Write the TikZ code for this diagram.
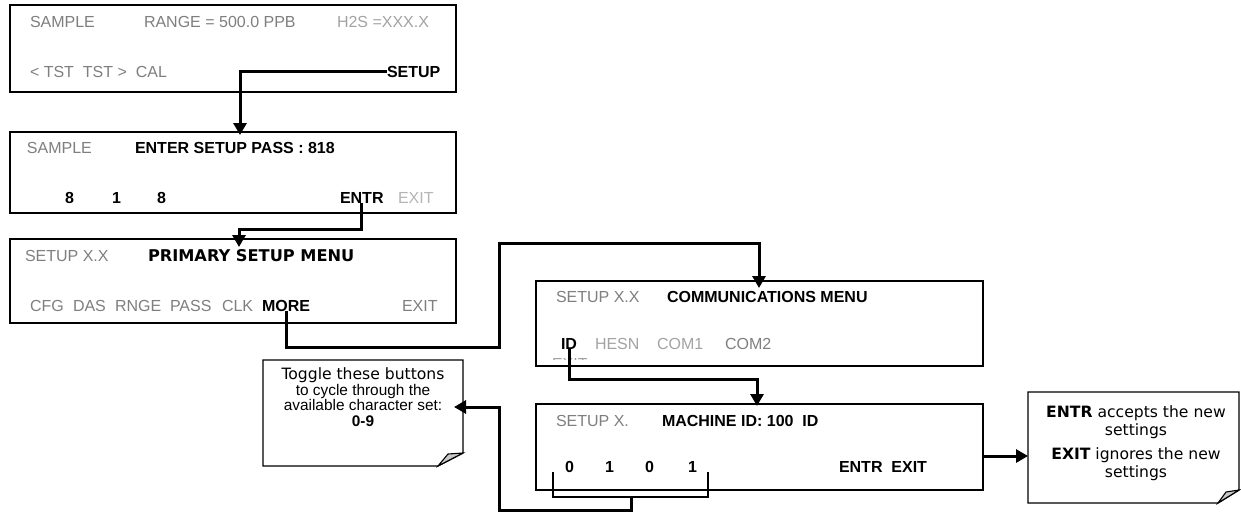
\documentclass[tikz,border=0pt]{standalone}
\usepackage{fontspec}
\setmainfont{Liberation Sans}
\newfontfamily\verd{DejaVu Sans}
\usetikzlibrary{arrows.meta,calc}
\definecolor{gA}{HTML}{7F7F7F}
\definecolor{gB}{HTML}{A3A3A3}
\definecolor{foldgray}{HTML}{C8C8C8}
\begin{document}
\begin{tikzpicture}[x=1pt,y=-1pt,
  lcd/.style={draw=black,line width=1.4pt,fill=white,anchor=north west,inner sep=0pt,outer sep=0pt,minimum width=446pt},
  txt/.style={anchor=base west,inner sep=0pt,outer sep=0pt,font=\fontsize{16}{19}\selectfont},
  gtxt/.style={txt,text=gA},
  ltxt/.style={txt,text=gB},
  btxt/.style={txt,font=\fontsize{16}{19}\selectfont\bfseries},
  ctxt/.style={anchor=base,inner sep=0pt,outer sep=0pt,font=\fontsize{15.4}{18}\selectfont},
  vtxt/.style={anchor=base,inner sep=0pt,outer sep=0pt,font=\verd\fontsize{15.6}{19}\selectfont},
  conn/.style={line width=3pt,-{Triangle[width=13pt,length=12pt]}},
  brk/.style={line width=1.3pt},
  note/.style={draw=black,line width=1.3pt,fill=white},
  fold/.style={draw=black,line width=1.1pt,fill=foldgray},
  holder/.style={anchor=north west,inner sep=0pt,outer sep=0pt}
]
\useasboundingbox (0,0) rectangle (1241,512);

% ---- box 1
\node[lcd,minimum height=87pt] (b1) at (10,5) {};
\node[gtxt] (t1a) at (30,27) {SAMPLE};
\node[gtxt] (t1b) at (144,27) {RANGE = 500.0 PPB};
\node[ltxt] (t1c) at (337,27) {H2S =XXX.X};
\node[gtxt] (t1d) at (30,77) {<~TST~~TST~>~~CAL};
\node[btxt] (setup) at (387,77) {SETUP};

% ---- box 2
\node[lcd,minimum height=81pt] (b2) at (10,132) {};
\node[gtxt] (t2a) at (27,153) {SAMPLE};
\node[btxt] (t2b) at (135,153) {ENTER SETUP PASS : 818};
\node[btxt] (t2c) at (65,203) {8};
\node[btxt] (t2d) at (112,203) {1};
\node[btxt] (t2e) at (157,203) {8};
\node[btxt] (entr) at (340,203) {ENTR};
\node[txt,text=gB!80] (t2x) at (398,203) {EXIT};

% ---- box 3
\node[lcd,minimum height=84pt] (b3) at (10,239) {};
\node[gtxt] (t3a) at (25,261) {SETUP X.X};
\node[txt,font=\verd\bfseries\fontsize{16.2}{19}\selectfont] (t3b) at (148,261) {PRIMARY SETUP MENU};
\node[gtxt] (t3c) at (30,311) {CFG};
\node[gtxt] (t3d) at (73,311) {DAS};
\node[gtxt] (t3e) at (115,311) {RNGE};
\node[gtxt] (t3f) at (170,311) {PASS};
\node[gtxt] (t3g) at (222,311) {CLK};
\node[btxt] (more) at (262,311) {MORE};
\node[gtxt] (t3h) at (402,311) {EXIT};

% ---- communications box
\node[lcd,minimum width=447pt,minimum height=85pt] (cm) at (536,281) {};
\node[gtxt] (t4a) at (556,302) {SETUP X.X};
\node[btxt] (t4b) at (667,302) {COMMUNICATIONS MENU};
\node[btxt] (id) at (561,349) {ID};
\node[ltxt] (t4c) at (595,349) {HESN};
\node[ltxt] (t4d) at (657,349) {COM1};
\node[gtxt] (t4e) at (725,349) {COM2};
\begin{scope}
  \clip (545,356) rectangle (600,359.5);
  \node[ltxt] (t4g) at (552,369) {EXIT};
\end{scope}

% ---- machine id box
\node[lcd,minimum width=447pt,minimum height=86pt] (md) at (536,404) {};
\node[gtxt] (t5a) at (556,426) {SETUP X.};
\node[btxt] (t5b) at (662,426) {MACHINE ID: 100~~ID};
\node[btxt] (t5c) at (565,472) {0};
\node[btxt] (t5d) at (605,472) {1};
\node[btxt] (t5e) at (645,472) {0};
\node[btxt] (t5f) at (688,472) {1};
\node[btxt] (t5g) at (839,472) {ENTR~~EXIT};

% ---- callout 1
\node[holder,minimum width=200pt,minimum height=106pt] (cl1) at (263,360) {};
\draw[note] (cl1.north west) -- (cl1.north east) -- ($(cl1.south east)+(0,-13)$)
  -- ($(cl1.south east)+(-25,0)$) -- (cl1.south west) -- cycle;
\draw[fold] ($(cl1.south east)+(-25,0)$) -- ($(cl1.south east)+(-15,-12)$)
  -- ($(cl1.south east)+(0,-13)$) -- cycle;
\node[vtxt] (n1a) at (363,379) {Toggle these buttons};
\node[ctxt] (n1b) at (363,395) {to cycle through the};
\node[ctxt] (n1c) at (363,410.5) {available character set:};
\node[ctxt,font=\fontsize{15.4}{18}\selectfont\bfseries] (n1d) at (363,426) {0-9};

% ---- callout 2
\node[holder,minimum width=211pt,minimum height=111pt] (cl2) at (1028,392) {};
\draw[note] (cl2.north west) -- (cl2.north east) -- ($(cl2.south east)+(0,-13)$)
  -- ($(cl2.south east)+(-21,0)$) -- (cl2.south west) -- cycle;
\draw[fold] ($(cl2.south east)+(-21,0)$) -- ($(cl2.south east)+(-13,-11)$)
  -- ($(cl2.south east)+(0,-13)$) -- cycle;
\node[vtxt] (n2a) at (1136,417) {{\bfseries ENTR} accepts the new};
\node[vtxt] (n2b) at (1136,435) {settings};
\node[vtxt] (n2c) at (1136,459) {{\bfseries EXIT} ignores the new};
\node[vtxt] (n2d) at (1136,477) {settings};

% ---- waypoints
\coordinate (w1) at (239,229);
\coordinate (w2) at (499,347);
\coordinate (w3) at (759,243);
\coordinate (w4) at (757,379);
\coordinate (w5) at (499,510);
\coordinate (w6) at (0,407);
\coordinate (w7) at (0,456);
\coordinate (bl) at (553,472);
\coordinate (br) at (708,472);
\coordinate (bm) at (631,497);

% ---- connectors
\draw[conn,shorten >=-3pt] (setup.west) -| ($(b2.north west)+(230,0)$);
\draw[conn,shorten >=-8pt] (entr.south) |- (w1) -- (w1 |- b3.north);
\draw[conn,shorten >=-7pt] (more.south) |- (w2) |- (w3) -- (w3 |- cm.north);
\draw[conn,shorten >=-2pt] (id.south) |- (w4) -- (w4 |- md.north);
\draw[brk] (bl) |- (br |- bm) -- (br);
\draw[conn,shorten >=-9pt] (bm) |- (w5) |- (cl1.east |- w6);
\draw[conn] (md.east |- w7) -- (cl2.west |- w7);
\end{tikzpicture}
\end{document}
